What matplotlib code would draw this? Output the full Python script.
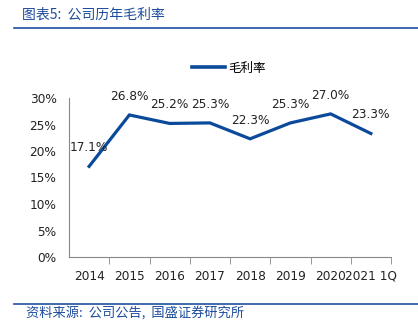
import matplotlib
matplotlib.use("Agg")
import matplotlib.pyplot as plt
from matplotlib.lines import Line2D

categories = ["2014", "2015", "2016", "2017", "2018", "2019", "2020", "2021 1Q"]
gross_margin = [17.1, 26.8, 25.2, 25.3, 22.3, 25.3, 27.0, 23.3]
series_name = "毛利率"
title = "图表5:  公司历年毛利率"
source = "资料来源:  公司公告,  国盛证券研究所"

plt.rcParams['font.family'] = ['DejaVu Sans', 'Noto Sans CJK SC']
W, H = 418, 336
fig = plt.figure(figsize=(W/100, H/100), dpi=100)
line_color = "#0B4A9B"
hdr_color = "#1C4C9C"

ax = fig.add_axes([69/W, 1-257/H, (391-69)/W, (257-98)/H])
x = list(range(len(categories)))
ax.plot(x, gross_margin, color=line_color, lw=2.3, solid_joinstyle='miter')
for xi, v in zip(x, gross_margin):
    ax.annotate(f"{v:.1f}%", (xi, v), xytext=(0, 13.5), textcoords="offset points",
                ha="center", va="center", fontsize=8.7, color="#222222")
ax.set_xlim(-0.5, len(categories)-0.5)
ax.set_ylim(0, 30)
ax.set_yticks([0, 5, 10, 15, 20, 25, 30])
ax.set_yticklabels([f"{t}%" for t in [0, 5, 10, 15, 20, 25, 30]], fontsize=8.7, color="#222222")
ax.set_xticks(x)
ax.set_xticklabels(categories, fontsize=8.7, color="#222222")
ax.tick_params(axis='x', length=0, pad=9)
ax.set_xticks([i+0.5 for i in x], minor=True)
ax.tick_params(axis='x', which='minor', length=5, color="#888888", direction='out')
ax.tick_params(axis='y', length=0, pad=9)
for s in ["top", "right"]:
    ax.spines[s].set_visible(False)
for s in ["left", "bottom"]:
    ax.spines[s].set_color("#888888")
    ax.spines[s].set_linewidth(0.8)

handle = Line2D([0], [0], color=line_color, lw=2.6)
fig.legend([handle], [series_name], loc="center", bbox_to_anchor=(229/W, 1-68/H),
           frameon=False, handlelength=2.6, handletextpad=0.3,
           prop={'family': ['Noto Sans CJK SC'], 'size': 9})

fig.text(22/W, 1-15/H, title, fontsize=10, color=hdr_color, style='italic',
         family=['Noto Sans CJK SC', 'DejaVu Sans'], va="center", ha="left")
fig.add_artist(Line2D([14/W, 1], [1-28/H, 1-28/H], color="#1F4FA0", lw=1.2))
fig.add_artist(Line2D([14/W, 1], [1-304/H, 1-304/H], color="#1F4FA0", lw=1.2))
fig.text(26/W, 1-313/H, source, fontsize=9.5, color=hdr_color, style='italic',
         family=['Noto Sans CJK SC', 'DejaVu Sans'], va="center", ha="left")

fig.savefig("out.png", dpi=100)
